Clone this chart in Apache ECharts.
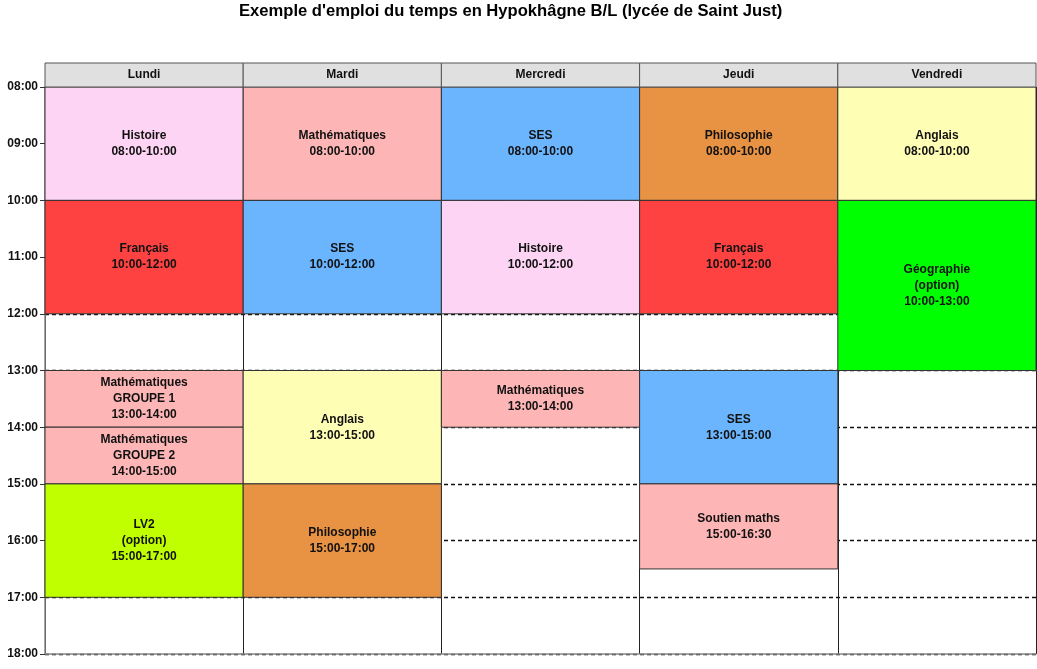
<!DOCTYPE html>
<html><head><meta charset="utf-8">
<script src="https://cdn.jsdelivr.net/npm/echarts@6/dist/echarts.min.js"></script>
<style>html,body{margin:0;padding:0;background:#fff}#c{width:1037px;height:669px}</style>
</head><body><div id="c"></div>
<script>
var days = ['Lundi', 'Mardi', 'Mercredi', 'Jeudi', 'Vendredi'];
var eventDays   = [0, 0, 0, 0, 0, 1, 1, 1, 1, 2, 2, 2, 3, 3, 3, 3, 4, 4];
var eventStarts = [8, 10, 13, 14, 15, 8, 10, 13, 15, 8, 10, 13, 8, 10, 13, 15, 8, 10];
var eventEnds   = [10, 12, 14, 15, 17, 10, 12, 15, 17, 10, 12, 14, 10, 12, 15, 16.5, 10, 13];
var eventLabels = ['Histoire', 'Français', 'Mathématiques\nGROUPE 1', 'Mathématiques\nGROUPE 2', 'LV2\n(option)',
  'Mathématiques', 'SES', 'Anglais', 'Philosophie',
  'SES', 'Histoire', 'Mathématiques',
  'Philosophie', 'Français', 'SES', 'Soutien maths',
  'Anglais', 'Géographie\n(option)'];
var subjectColors = {
  'Histoire': '#fed4f4', 'Français': '#fe4242', 'Mathématiques': '#feb5b5', 'LV2': '#bfff00',
  'SES': '#6bb5fe', 'Anglais': '#fefeb5', 'Philosophie': '#e89244', 'Géographie': '#00ff00',
  'Soutien maths': '#feb5b5'
};
var hourMin = 8, hourMax = 18;

function fmt(h) {
  var hh = Math.floor(h), mm = Math.round((h - hh) * 60);
  return (hh < 10 ? '0' : '') + hh + ':' + (mm < 10 ? '0' : '') + mm;
}
function colorFor(label) {
  var key = label.split('\n')[0];
  return subjectColors[key] || '#ddd';
}
var eventData = eventDays.map(function (d, i) { return [d, eventStarts[i], eventEnds[i], i]; });

var chart = echarts.init(document.getElementById('c'), null, { renderer: 'canvas' });
chart.setOption({
  animation: false,
  backgroundColor: '#fff',
  title: {
    text: "Exemple d'emploi du temps en Hypokhâgne B/L (lycée de Saint Just)",
    left: 234, top: -2,
    textStyle: { fontFamily: 'Liberation Sans, Arial, sans-serif', fontSize: 16.6, fontWeight: 'bold', color: '#000' }
  },
  grid: { left: 45, right: 1, top: 87, bottom: 15 },
  xAxis: {
    type: 'category', data: days,
    axisLabel: { show: false }, axisTick: { show: false },
    axisLine: { show: true, lineStyle: { color: '#888', width: 1.5 } },
    splitLine: { show: true, lineStyle: { color: '#222', width: 1 } }
  },
  yAxis: {
    type: 'value', inverse: true, min: hourMin, max: hourMax, interval: 1,
    axisLine: { show: true, lineStyle: { color: '#888', width: 1.5 } },
    axisTick: { show: true, length: 5, lineStyle: { color: '#333' } },
    axisLabel: {
      formatter: function (v) { return fmt(v); },
      fontFamily: 'Liberation Sans, Arial, sans-serif', fontSize: 12, fontWeight: 'bold', color: '#111', margin: 7
    },
    splitLine: { show: true, lineStyle: { color: '#111', type: [4, 3], width: 1.3 } }
  },
  series: [{
    type: 'custom',
    data: eventData,
    encode: { x: 0, y: [1, 2] },
    renderItem: function (params, api) {
      var d = api.value(0), s = api.value(1), e = api.value(2), idx = api.value(3);
      var p1 = api.coord([d, s]), p2 = api.coord([d, e]);
      var w = api.size([1, 0])[0];
      var label = eventLabels[idx];
      var x = p1[0] - w / 2, y = p1[1], h = p2[1] - p1[1];
      return {
        type: 'group',
        children: [{
          type: 'rect',
          shape: { x: x, y: y, width: w, height: h },
          style: { fill: colorFor(label), stroke: '#333', lineWidth: 1 }
        }, {
          type: 'text',
          x: p1[0], y: y + h / 2,
          style: {
            text: label + '\n' + fmt(s) + '-' + fmt(e),
            align: 'center', verticalAlign: 'middle', lineHeight: 16,
            font: 'bold 12px "Liberation Sans", Arial, sans-serif', fill: '#111'
          }
        }]
      };
    }
  }, {
    type: 'custom',
    clip: false,
    data: days.map(function (d, i) { return [i, hourMin]; }),
    encode: { x: 0, y: 1 },
    renderItem: function (params, api) {
      var i = api.value(0);
      var p = api.coord([i, hourMin]);
      var w = api.size([1, 0])[0];
      return {
        type: 'group',
        children: [{
          type: 'rect',
          shape: { x: p[0] - w / 2, y: p[1] - 24, width: w, height: 24 },
          style: { fill: '#e0e0e0', stroke: '#555', lineWidth: 1 }
        }, {
          type: 'text',
          x: p[0], y: p[1] - 12,
          style: {
            text: days[i], align: 'center', verticalAlign: 'middle',
            font: 'bold 12px "Liberation Sans", Arial, sans-serif', fill: '#111'
          }
        }]
      };
    }
  }]
});
</script>
</body></html>
